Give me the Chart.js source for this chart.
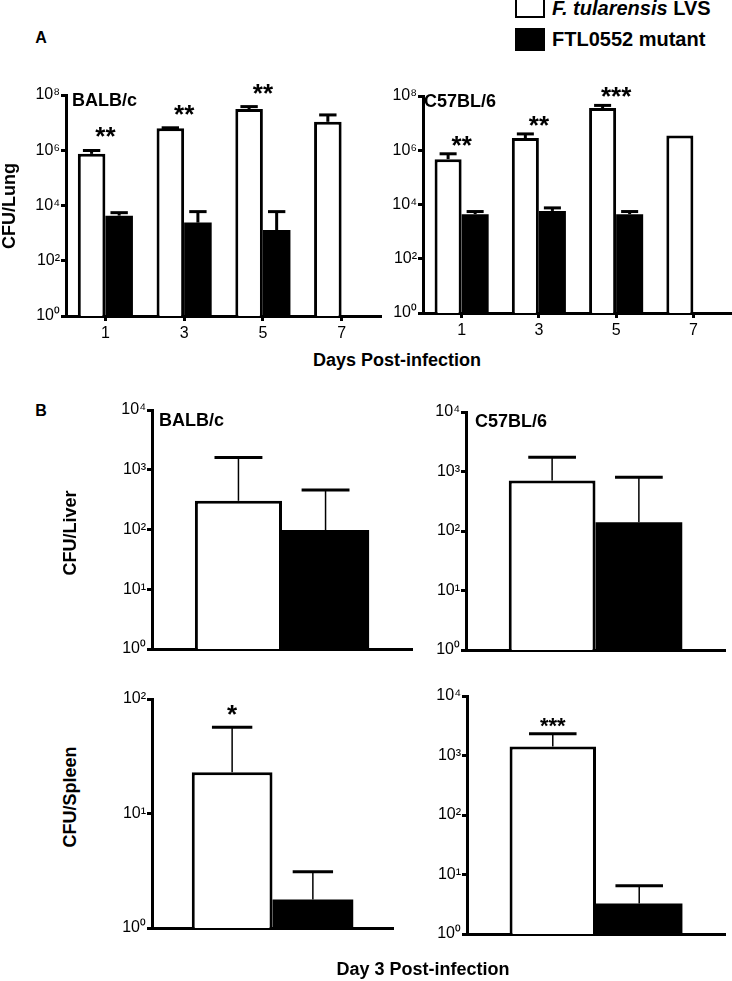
<!DOCTYPE html>
<html>
<head>
<meta charset="utf-8">
<script src="https://cdn.jsdelivr.net/npm/chart.js@4.4.0/dist/chart.umd.min.js"></script>
<style>
  body { margin: 0; width: 732px; height: 981px; background: #fff; position: relative; overflow: hidden;
         font-family: 'Liberation Sans', Arial, Helvetica, sans-serif; color: #000; }
  .box { position: absolute; }
  .t { position: absolute; font-weight: bold; line-height: 1; white-space: nowrap; transform: translate(-50%, -50%); }
  .tl { transform: translate(0, -50%); }
  .rot { transform: translate(-50%, -50%) rotate(-90deg); }
  .key { position: absolute; box-sizing: border-box; border: 2.5px solid #000; }
</style>
</head>
<body>

<div class="t" style="left:41px; top:38px; font-size:16px;">A</div>
<div class="t" style="left:41px; top:411px; font-size:16px;">B</div>

<div class="key" style="left:515px; top:-4px; width:30px; height:22px; background:#fff;"></div>
<div class="key" style="left:515px; top:28px; width:30px; height:23px; background:#000;"></div>
<div class="t tl" style="left:552px; top:8px; font-size:20px;"><i>F. tularensis</i> LVS</div>
<div class="t tl" style="left:552px; top:39px; font-size:20px;">FTL0552 mutant</div>

<div class="t rot" style="left:9px; top:206px; font-size:18px;">CFU/Lung</div>
<div class="t rot" style="left:70px; top:533px; font-size:18px;">CFU/Liver</div>
<div class="t rot" style="left:70px; top:797px; font-size:18px;">CFU/Spleen</div>

<div class="t" style="left:397px; top:360px; font-size:18px;">Days Post-infection</div>
<div class="t" style="left:423px; top:969px; font-size:18px;">Day 3 Post-infection</div>

<script>
const FONT = "'Liberation Sans', Arial, Helvetica, sans-serif";

// ---- Panel A: CFU per lung by day ----
const lungDays = ['1', '3', '5', '7'];
const lungTicks = [1, 1e2, 1e4, 1e6, 1e8];
const lungTickLabels = ['10⁰', '10²', '10⁴', '10⁶', '10⁸'];

const balbLungLVS = [7.4e5, 6.3e6, 3.1e7, 1.07e7];
const balbLungLVSErr = [9.8e5, 6.5e6, 3.8e7, 1.9e7];
const balbLungMut = [4.3e3, 2.4e3, 1.3e3, null];
const balbLungMutErr = [5.5e3, 6.0e3, 6.0e3, null];
const balbLungStars = ['**', '**', '**', ''];

const b6LungLVS = [4.7e5, 2.8e6, 3.6e7, 3.5e6];
const b6LungLVSErr = [7.4e5, 4.0e6, 4.5e7, null];
const b6LungMut = [4.4e3, 5.8e3, 4.4e3, null];
const b6LungMutErr = [5.5e3, 7.5e3, 5.5e3, null];
const b6LungStars = ['**', '**', '***', ''];

// ---- Panel B: day 3 liver / spleen ----
const day3 = ['Day 3'];
const liverTicks = [1, 10, 100, 1000, 10000];
const liverTickLabels = ['10⁰', '10¹', '10²', '10³', '10⁴'];
const spleenBalbTicks = [1, 10, 100];
const spleenBalbTickLabels = ['10⁰', '10¹', '10²'];

const balbLiverLVS = [302];
const balbLiverLVSErr = [1600];
const balbLiverMut = [98];
const balbLiverMutErr = [457];

const b6LiverLVS = [705];
const b6LiverLVSErr = [1730];
const b6LiverMut = [140];
const b6LiverMutErr = [800];

const balbSpleenLVS = [22.9];
const balbSpleenLVSErr = [56.6];
const balbSpleenMut = [1.77];
const balbSpleenMutErr = [3.1];
const balbSpleenStars = ['*'];

const b6SpleenLVS = [1420];
const b6SpleenLVSErr = [2330];
const b6SpleenMut = [3.27];
const b6SpleenMutErr = [6.5];
const b6SpleenStars = ['***'];

// error bars (upper only) + significance stars
const errorBars = {
  id: 'errorBars',
  afterDatasetsDraw(chart, args, o) {
    const ctx = chart.ctx, y = chart.scales.y, x = chart.scales.x;
    const tops = [];
    chart.data.datasets.forEach((ds, di) => {
      chart.getDatasetMeta(di).data.forEach((bar, i) => {
        const top = ds.errTop[i];
        if (ds.data[i] == null) return;
        const yv = y.getPixelForValue(ds.data[i]);
        const yt = top == null ? yv : y.getPixelForValue(top);
        tops[i] = Math.min(tops[i] ?? Infinity, yt);
        if (top == null) return;
        const half = bar.width * o.capFrac / 2;
        ctx.save();
        ctx.strokeStyle = '#000';
        ctx.lineWidth = o.stemWidth;
        ctx.beginPath(); ctx.moveTo(bar.x, yv); ctx.lineTo(bar.x, yt); ctx.stroke();
        ctx.lineWidth = o.capWidth;
        ctx.beginPath(); ctx.moveTo(bar.x - half, yt); ctx.lineTo(bar.x + half, yt); ctx.stroke();
        ctx.restore();
      });
    });
    if (!o.stars) return;
    ctx.save();
    ctx.fillStyle = '#000';
    ctx.font = 'bold ' + o.starSize + 'px ' + FONT;
    ctx.textAlign = 'center';
    ctx.textBaseline = 'alphabetic';
    o.stars.forEach((s, i) => {
      if (!s) return;
      const cx = o.starOver === 'group' ? x.getPixelForValue(i) : chart.getDatasetMeta(0).data[i].x;
      ctx.fillText(s, cx, tops[i] - o.starGap);
    });
    ctx.restore();
  }
};

function makePanel(area, p) {
  const padL = 60, padT = 26, padB = 30, padR = p.padR ?? 2;
  const wrap = document.createElement('div');
  wrap.className = 'box';
  wrap.style.left = (area.left - padL) + 'px';
  wrap.style.top = (area.top - padT) + 'px';
  wrap.style.width = (area.right - area.left + padL + padR) + 'px';
  wrap.style.height = (area.bottom - area.top + padT + padB) + 'px';
  const canvas = document.createElement('canvas');
  wrap.appendChild(canvas);
  document.body.insertBefore(wrap, document.body.firstChild);

  new Chart(canvas, {
    type: 'bar',
    data: {
      labels: p.labels,
      datasets: [
        { label: 'F. tularensis LVS', data: p.lvs, errTop: p.lvsErr,
          backgroundColor: '#fff', borderColor: '#000', borderWidth: 3 },
        { label: 'FTL0552 mutant', data: p.mut, errTop: p.mutErr,
          backgroundColor: '#000', borderColor: '#000', borderWidth: 0 }
      ]
    },
    plugins: [errorBars],
    options: {
      responsive: true,
      maintainAspectRatio: false,
      animation: false,
      events: [],
      layout: { padding: { left: 0, top: padT, right: padR, bottom: 0 } },
      datasets: { bar: { categoryPercentage: p.catPct, barPercentage: 1 } },
      plugins: {
        legend: { display: false },
        tooltip: { enabled: false },
        errorBars: { capFrac: p.capFrac, stemWidth: p.stemWidth, capWidth: 3,
                     stars: p.stars, starOver: p.starOver, starGap: p.starGap, starSize: p.starSize ?? 26 }
      },
      scales: {
        x: {
          type: 'category',
          offset: true,
          afterFit: s => { s.height = padB; },
          ticks: { display: p.showX, color: '#000', padding: 3, font: { family: FONT, size: 16 } },
          grid: { display: true, drawOnChartArea: false, drawTicks: p.showX, offset: false,
                  tickLength: 5, tickWidth: 3, color: '#000' },
          border: { display: true, width: 3, color: '#000' }
        },
        y: {
          type: 'logarithmic',
          min: p.ticks[0],
          max: p.ticks[p.ticks.length - 1],
          afterBuildTicks: s => { s.ticks = p.ticks.map(v => ({ value: v })); },
          afterFit: s => { s.width = padL; },
          ticks: { color: '#000', padding: 1, autoSkip: false,
                   font: { family: FONT, size: 16 },
                   callback: (v, i) => p.tickLabels[i] },
          grid: { display: true, drawOnChartArea: false, drawTicks: true,
                  tickLength: 5, tickWidth: 3, color: '#000' },
          border: { display: true, width: 3, color: '#000' }
        }
      }
    }
  });
}

makePanel({ left: 66, top: 95, right: 381, bottom: 316 }, {
  labels: lungDays, ticks: lungTicks, tickLabels: lungTickLabels,
  lvs: balbLungLVS, lvsErr: balbLungLVSErr, mut: balbLungMut, mutErr: balbLungMutErr,
  stars: balbLungStars, starOver: 'group', starGap: 5,
  catPct: 0.7, capFrac: 0.63, stemWidth: 3, showX: true
});
makePanel({ left: 423, top: 96, right: 732, bottom: 313 }, {
  labels: lungDays, ticks: lungTicks, tickLabels: lungTickLabels,
  lvs: b6LungLVS, lvsErr: b6LungLVSErr, mut: b6LungMut, mutErr: b6LungMutErr,
  stars: b6LungStars, starOver: 'group', starGap: 0, padR: 0,
  catPct: 0.7, capFrac: 0.63, stemWidth: 3, showX: true
});
makePanel({ left: 152, top: 410, right: 412, bottom: 649 }, {
  labels: day3, ticks: liverTicks, tickLabels: liverTickLabels,
  lvs: balbLiverLVS, lvsErr: balbLiverLVSErr, mut: balbLiverMut, mutErr: balbLiverMutErr,
  catPct: 0.67, capFrac: 0.55, stemWidth: 1.5, showX: false
});
makePanel({ left: 466, top: 412, right: 725, bottom: 650 }, {
  labels: day3, ticks: liverTicks, tickLabels: liverTickLabels,
  lvs: b6LiverLVS, lvsErr: b6LiverLVSErr, mut: b6LiverMut, mutErr: b6LiverMutErr,
  catPct: 0.67, capFrac: 0.55, stemWidth: 1.5, showX: false
});
makePanel({ left: 152, top: 699, right: 393, bottom: 928 }, {
  labels: day3, ticks: spleenBalbTicks, tickLabels: spleenBalbTickLabels,
  lvs: balbSpleenLVS, lvsErr: balbSpleenLVSErr, mut: balbSpleenMut, mutErr: balbSpleenMutErr,
  stars: balbSpleenStars, starOver: 'first', starGap: 4,
  catPct: 0.67, capFrac: 0.5, stemWidth: 1.5, showX: false
});
makePanel({ left: 467, top: 696, right: 725, bottom: 934 }, {
  labels: day3, ticks: liverTicks, tickLabels: liverTickLabels,
  lvs: b6SpleenLVS, lvsErr: b6SpleenLVSErr, mut: b6SpleenMut, mutErr: b6SpleenMutErr,
  stars: b6SpleenStars, starOver: 'first', starGap: 1, starSize: 22,
  catPct: 0.67, capFrac: 0.55, stemWidth: 1.5, showX: false
});
</script>

<div class="t tl" style="left:72px; top:100px; font-size:18px;">BALB/c</div>
<div class="t tl" style="left:424px; top:101px; font-size:18px;">C57BL/6</div>
<div class="t tl" style="left:159px; top:420px; font-size:18px;">BALB/c</div>
<div class="t tl" style="left:475px; top:421px; font-size:18px;">C57BL/6</div>
</body>
</html>
